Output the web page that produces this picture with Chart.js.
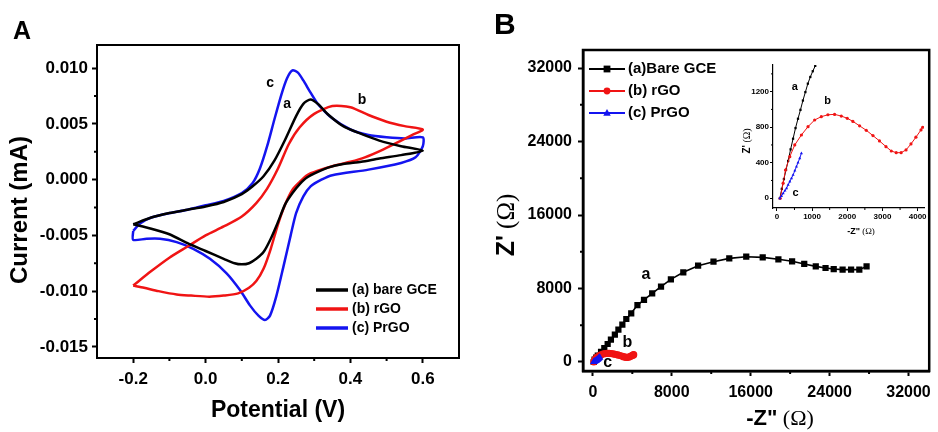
<!DOCTYPE html>
<html>
<head>
<meta charset="utf-8">
<script src="https://cdn.jsdelivr.net/npm/chart.js@4.4.0/dist/chart.umd.min.js"></script>
<style>
  html, body { margin: 0; padding: 0; background: #fff; }
  #wrap { position: relative; width: 938px; height: 432px; overflow: hidden; }
  canvas { position: absolute; }
</style>
</head>
<body>
<div id="wrap">
  <canvas id="cvChart" width="470" height="432" style="left:0;top:0"></canvas>
  <canvas id="eisChart" width="468" height="432" style="left:470px;top:0"></canvas>
  <canvas id="insetChart" width="200" height="185" style="left:735px;top:55px"></canvas>
</div>
<script>
// ---- A: cyclic voltammograms (potential V, current mA) ----
const bareE = [-0.2, -0.15, -0.10, -0.05, 0.0, 0.05, 0.10, 0.13, 0.16, 0.19, 0.22, 0.25, 0.27, 0.29, 0.31, 0.34, 0.38, 0.43, 0.48, 0.54, 0.60,
  0.54, 0.48, 0.43, 0.38, 0.34, 0.31, 0.28, 0.26, 0.24, 0.22, 0.20, 0.18, 0.16, 0.14, 0.12, 0.10, 0.08, 0.05, 0.0, -0.05, -0.10, -0.15, -0.2];
const bareI = [-0.0040, -0.0034, -0.0030, -0.0027, -0.0024, -0.0020, -0.0013, -0.0006, 0.0003, 0.0017, 0.0036, 0.0057, 0.0068, 0.0072, 0.0068, 0.0058, 0.0048, 0.0041, 0.0035, 0.0030, 0.0026,
  0.0022, 0.0019, 0.0016, 0.0014, 0.0011, 0.0007, 0.0002, -0.0004, -0.0012, -0.0022, -0.0038, -0.0053, -0.0065, -0.0071, -0.0075, -0.0076, -0.0075, -0.0071, -0.0064, -0.0057, -0.0049, -0.0044, -0.0040];

const rgoE = [-0.2, -0.15, -0.10, -0.05, 0.0, 0.05, 0.10, 0.14, 0.17, 0.20, 0.23, 0.26, 0.30, 0.35, 0.40, 0.45, 0.50, 0.55, 0.60,
  0.57, 0.54, 0.49, 0.44, 0.40, 0.35, 0.31, 0.28, 0.26, 0.24, 0.22, 0.20, 0.18, 0.16, 0.14, 0.12, 0.09, 0.05, 0.01, -0.04, -0.08, -0.13, -0.17, -0.2];
const rgoI = [-0.0095, -0.0082, -0.0070, -0.0060, -0.0050, -0.0042, -0.0033, -0.0021, -0.0008, 0.0010, 0.0032, 0.0047, 0.0059, 0.0066, 0.0065, 0.0058, 0.0052, 0.0048, 0.0045,
  0.0040, 0.0035, 0.0027, 0.0020, 0.0016, 0.0012, 0.0008, 0.0004, -0.0002, -0.0009, -0.0022, -0.0040, -0.0062, -0.0080, -0.0091, -0.0097, -0.0102, -0.0104, -0.0105, -0.0104, -0.0103, -0.0100, -0.0097, -0.0095];

const prgoE = [-0.2, -0.18, -0.15, -0.10, -0.05, 0.0, 0.05, 0.10, 0.13, 0.15, 0.17, 0.19, 0.21, 0.225, 0.24, 0.255, 0.27, 0.29, 0.31, 0.35, 0.40, 0.45, 0.50, 0.55, 0.60,
  0.60, 0.58, 0.54, 0.45, 0.35, 0.32, 0.29, 0.27, 0.25, 0.235, 0.215, 0.195, 0.178, 0.164, 0.146, 0.123, 0.095, 0.058, 0.012, -0.034, -0.080, -0.126, -0.163, -0.2, -0.2];
const prgoI = [-0.0046, -0.0039, -0.0034, -0.0030, -0.0027, -0.0023, -0.0019, -0.0012, -0.0003, 0.0010, 0.0030, 0.0054, 0.0077, 0.0091, 0.0098, 0.0096, 0.0089, 0.0078, 0.0068, 0.0055, 0.0045, 0.0040, 0.0038, 0.0037, 0.0038,
  0.0030, 0.0020, 0.0015, 0.0009, 0.0004, 0.0000, -0.0006, -0.0015, -0.0030, -0.0050, -0.0078, -0.0105, -0.0122, -0.0126, -0.0122, -0.0113, -0.0099, -0.0084, -0.0071, -0.0062, -0.0056, -0.0053, -0.0053, -0.0054, -0.0046];

const cvXTicks = [-0.2, 0.0, 0.2, 0.4, 0.6];
const cvXLabels = ['-0.2', '0.0', '0.2', '0.4', '0.6'];
const cvYTicks = [-0.015, -0.010, -0.005, 0.0, 0.005, 0.010];
const cvYLabels = ['-0.015', '-0.010', '-0.005', '0.000', '0.005', '0.010'];
const cvXMinor = [-0.1, 0.1, 0.3, 0.5];
const cvYMinor = [-0.0125, -0.0075, -0.0025, 0.0025, 0.0075];

// ---- B: Nyquist plots (-Z'' vs Z', ohm) ----
const eisBareRe = [85, 170, 330, 500, 830, 1160, 1500, 1830, 2230, 2590, 2990, 3390, 3890, 4520, 5185, 6015, 6910, 7910, 9170, 10670, 12230, 13830, 15550, 17220, 18810, 20200, 21430, 22600, 23590, 24420, 25320, 26180, 27015, 27750];
const eisBareIm = [0, 250, 470, 690, 1090, 1520, 1960, 2430, 2980, 3520, 4060, 4680, 5300, 6200, 6750, 7470, 8200, 9000, 9760, 10480, 10920, 11280, 11460, 11390, 11180, 10960, 10670, 10410, 10230, 10120, 10050, 10050, 10050, 10410];
const eisRgoRe = [94, 178, 245, 367, 508, 697, 885, 1073, 1262, 1450, 1640, 1830, 2000, 2160, 2350, 2540, 2730, 2915, 3100, 3250, 3390, 3530, 3670, 3810, 3950, 4095, 4141];
const eisRgoIm = [0, 169, 318, 468, 600, 712, 806, 881, 918, 940, 944, 925, 900, 865, 815, 765, 705, 645, 581, 532, 513, 513, 544, 611, 687, 769, 799];
const eisPrgoRe = [85, 130, 178, 230, 274, 320, 367, 415, 461, 510, 556, 600, 650, 697];
const eisPrgoIm = [0, 25, 56, 85, 112, 150, 187, 225, 262, 310, 356, 400, 450, 506];
// inset: the bare GCE branch close to the origin
const insetBareRe = [85, 140, 200, 260, 320, 390, 460, 530, 600, 670, 740, 810, 880, 950, 1020, 1090, 1140];
const insetBareIm = [0, 105, 215, 320, 420, 550, 670, 790, 895, 995, 1100, 1195, 1290, 1365, 1430, 1490, 1530];

const eisTicks = [0, 8000, 16000, 24000, 32000];
const eisLabels = ['0', '8000', '16000', '24000', '32000'];
const eisMinor = [4000, 12000, 20000, 28000];
const insetXTicks = [0, 1000, 2000, 3000, 4000];
const insetXLabels = ['0', '1000', '2000', '3000', '4000'];
const insetYTicks = [0, 400, 800, 1200];
const insetYLabels = ['0', '400', '800', '1200'];
const insetXMinor = [500, 1500, 2500, 3500];
const insetYMinor = [200, 600, 1000, 1400];

const RED = 'rgb(240,20,20)';
const BLUE = 'rgb(20,20,240)';
const SANS = 'Liberation Sans';
const SERIF = 'Liberation Serif';
Chart.defaults.font.family = SANS;

function pts(xs, ys) {
  return xs.map((x, i) => ({ x: x, y: ys[i] }));
}

function axis(min, max, ticks, labels, size, fontSize, pad, tickLen, tickW, borderW) {
  return {
    type: 'linear', min: min, max: max,
    afterBuildTicks: s => { s.ticks = ticks.map(v => ({ value: v })); },
    afterFit: s => { if (s.isHorizontal()) s.height = size; else s.width = size; },
    ticks: { callback: (v, i) => labels[i], color: '#000', padding: pad, autoSkip: false, maxRotation: 0,
      font: { family: SANS, size: fontSize, weight: 'bold' } },
    grid: { drawOnChartArea: false, drawTicks: true, tickLength: tickLen, tickWidth: tickW, tickColor: '#000' },
    border: { display: true, color: '#000', width: borderW }
  };
}

function drawMark(ctx, style, x, y, r, color) {
  ctx.fillStyle = color;
  ctx.beginPath();
  if (style === 'rect') {
    ctx.rect(x - r, y - r, 2 * r, 2 * r);
  } else if (style === 'triangle') {
    ctx.moveTo(x, y - r * 1.2);
    ctx.lineTo(x + r * 1.1, y + r * 0.8);
    ctx.lineTo(x - r * 1.1, y + r * 0.8);
    ctx.closePath();
  } else {
    ctx.arc(x, y, r, 0, Math.PI * 2);
  }
  ctx.fill();
}

// frame, minor ticks, titles, curve letters and legend
const deco = {
  id: 'deco',
  afterDraw(chart, args, o) {
    const ctx = chart.ctx, a = chart.chartArea;
    const xs = chart.scales.x, ys = chart.scales.y;
    ctx.save();
    ctx.strokeStyle = '#000';
    if (o.box) {
      ctx.lineWidth = o.box;
      ctx.strokeRect(a.left, a.top, a.right - a.left, a.bottom - a.top);
    }
    ctx.lineWidth = o.minorWidth;
    ctx.beginPath();
    (o.minorX || []).forEach(v => {
      const p = xs.getPixelForValue(v);
      ctx.moveTo(p, a.bottom); ctx.lineTo(p, a.bottom + o.minorLen);
    });
    (o.minorY || []).forEach(v => {
      const p = ys.getPixelForValue(v);
      ctx.moveTo(a.left, p); ctx.lineTo(a.left - o.minorLen, p);
    });
    ctx.stroke();

    ctx.fillStyle = '#000';
    ctx.textAlign = 'center';
    ctx.textBaseline = 'middle';
    (o.curveLabels || []).forEach(t => {
      ctx.font = o.curveFont;
      ctx.fillText(t.text, xs.getPixelForValue(t.x), ys.getPixelForValue(t.y));
    });

    (o.titles || []).forEach(t => {
      ctx.save();
      ctx.translate(t.x, t.y);
      if (t.rot) ctx.rotate(t.rot);
      let w = 0;
      t.parts.forEach(p => { ctx.font = p.font; w += ctx.measureText(p.text).width; });
      let cx = t.left ? 0 : -w / 2;
      ctx.textAlign = 'left';
      ctx.textBaseline = 'middle';
      t.parts.forEach(p => {
        ctx.font = p.font;
        ctx.fillText(p.text, cx, 0);
        cx += ctx.measureText(p.text).width;
      });
      ctx.restore();
    });

    if (o.legend) {
      const L = o.legend;
      chart.data.datasets.forEach((ds, i) => {
        const y = L.y + i * L.gap;
        ctx.strokeStyle = ds.borderColor;
        ctx.lineWidth = L.lineWidth;
        ctx.beginPath(); ctx.moveTo(L.x1, y); ctx.lineTo(L.x2, y); ctx.stroke();
        if (L.marker) drawMark(ctx, ds.pointStyle, (L.x1 + L.x2) / 2, y, L.marker, ds.borderColor);
        ctx.fillStyle = '#000';
        ctx.font = L.font;
        ctx.textAlign = 'left';
        ctx.textBaseline = 'middle';
        ctx.fillText(ds.label, L.tx, y);
      });
    }
    ctx.restore();
  }
};

const baseOpts = {
  responsive: false,
  animation: false,
  devicePixelRatio: 1
};

// ---------- panel A ----------
function cvSet(label, e, i, color) {
  return { label: label, data: pts(e, i), showLine: true, borderColor: color, backgroundColor: color,
    borderWidth: 2.5, pointRadius: 0, tension: 0.25 };
}

new Chart(document.getElementById('cvChart'), {
  type: 'scatter',
  data: {
    datasets: [
      cvSet('(a) bare GCE', bareE, bareI, '#000'),
      cvSet('(b) rGO', rgoE, rgoI, RED),
      cvSet('(c) PrGO', prgoE, prgoI, BLUE)
    ]
  },
  options: Object.assign({}, baseOpts, {
    layout: { padding: { left: 0, top: 45, right: 11, bottom: 0 } },
    scales: {
      x: axis(-0.3, 0.7, cvXTicks, cvXLabels, 74, 17, 6, 5, 2, 2),
      y: axis(-0.016, 0.01208, cvYTicks, cvYLabels, 97, 17, 4, 5, 2, 2)
    },
    plugins: {
      legend: { display: false },
      tooltip: { enabled: false },
      deco: {
        box: 2, minorWidth: 2, minorLen: 3,
        minorX: cvXMinor, minorY: cvYMinor,
        curveFont: 'bold 14px ' + SANS,
        curveLabels: [
          { text: 'c', x: 0.178, y: 0.00868 },
          { text: 'a', x: 0.225, y: 0.00677 },
          { text: 'b', x: 0.432, y: 0.00713 }
        ],
        titles: [
          { parts: [{ text: 'A', font: 'bold 25px ' + SANS }], x: 13, y: 32, left: true },
          { parts: [{ text: 'Potential (V)', font: 'bold 23px ' + SANS }], x: 278, y: 411 },
          { parts: [{ text: 'Current (mA)', font: 'bold 24px ' + SANS }], x: 20, y: 210, rot: -Math.PI / 2 }
        ],
        legend: { x1: 316, x2: 348, tx: 352, y: 290, gap: 19, lineWidth: 3.5, font: 'bold 14px ' + SANS }
      }
    }
  }),
  plugins: [deco]
});

// ---------- panel B ----------
function eisSet(label, re, im, color, style, r, lw, order) {
  return { label: label, data: pts(re, im), showLine: true, borderColor: color, backgroundColor: color,
    borderWidth: lw, pointStyle: style, pointRadius: r, pointBorderWidth: 0, order: order };
}

new Chart(document.getElementById('eisChart'), {
  type: 'scatter',
  data: {
    datasets: [
      eisSet('(a)Bare GCE', eisBareRe, eisBareIm, '#000', 'rect', 4.4, 1.6, 3),
      eisSet('(b) rGO', eisRgoRe, eisRgoIm, RED, 'circle', 3.6, 3, 2),
      eisSet('(c) PrGO', eisPrgoRe, eisPrgoIm, BLUE, 'triangle', 4.2, 2, 1)
    ]
  },
  options: Object.assign({}, baseOpts, {
    layout: { padding: { left: 0, top: 50, right: 3, bottom: 0 } },
    scales: {
      x: axis(-1000, 34100, eisTicks, eisLabels, 61, 16, 7, 5, 2, 2.5),
      y: axis(-980, 33960, eisTicks, eisLabels, 113, 16, 6, 5, 2, 2.5)
    },
    plugins: {
      legend: { display: false },
      tooltip: { enabled: false },
      deco: {
        box: 2.5, minorWidth: 2, minorLen: 3,
        minorX: eisMinor, minorY: eisMinor,
        curveFont: 'bold 16px ' + SANS,
        curveLabels: [
          { text: 'a', x: 5384, y: 9469 },
          { text: 'b', x: 3490, y: 2068 },
          { text: 'c', x: 1495, y: -109 }
        ],
        titles: [
          { parts: [{ text: 'B', font: 'bold 30px ' + SANS }], x: 24, y: 26, left: true },
          { parts: [{ text: '-Z"', font: 'bold 22px ' + SANS }, { text: ' (Ω)', font: '22px ' + SERIF }], x: 310, y: 419 },
          { parts: [{ text: "Z'", font: 'bold 25px ' + SANS }, { text: ' (Ω)', font: '25px ' + SERIF }], x: 37, y: 225, rot: -Math.PI / 2 }
        ],
        legend: { x1: 119, x2: 155, tx: 158, y: 69, gap: 22, lineWidth: 2, marker: 3.4, font: 'bold 15px ' + SANS }
      }
    }
  }),
  plugins: [deco]
});

// ---------- inset of panel B ----------
new Chart(document.getElementById('insetChart'), {
  type: 'scatter',
  data: {
    datasets: [
      eisSet('(a)Bare GCE', insetBareRe, insetBareIm, '#000', 'rect', 1.6, 1, 3),
      eisSet('(b) rGO', eisRgoRe, eisRgoIm, RED, 'circle', 1.6, 1, 2),
      eisSet('(c) PrGO', eisPrgoRe, eisPrgoIm, BLUE, 'triangle', 1.8, 1, 1)
    ]
  },
  options: Object.assign({}, baseOpts, {
    layout: { padding: { left: 0, top: 10, right: 11, bottom: 0 } },
    scales: {
      x: axis(-110, 4180, insetXTicks, insetXLabels, 32, 8, 1, 3, 1, 1.2),
      y: axis(-110, 1500, insetYTicks, insetYLabels, 38, 8, 1, 3, 1, 1.2)
    },
    plugins: {
      legend: { display: false },
      tooltip: { enabled: false },
      deco: {
        box: 0, minorWidth: 1, minorLen: 2,
        minorX: insetXMinor, minorY: insetYMinor,
        curveFont: 'bold 11px ' + SANS,
        curveLabels: [
          { text: 'a', x: 510, y: 1253 },
          { text: 'b', x: 1443, y: 1099 },
          { text: 'c', x: 529, y: 56 }
        ],
        titles: [
          { parts: [{ text: '-Z"', font: 'bold 9px ' + SANS }, { text: ' (Ω)', font: '9px ' + SERIF }], x: 126, y: 177 },
          { parts: [{ text: "Z'", font: 'bold 10px ' + SANS }, { text: ' (Ω)', font: '10px ' + SERIF }], x: 12, y: 86, rot: -Math.PI / 2 }
        ]
      }
    }
  }),
  plugins: [deco]
});
</script>
</body>
</html>
